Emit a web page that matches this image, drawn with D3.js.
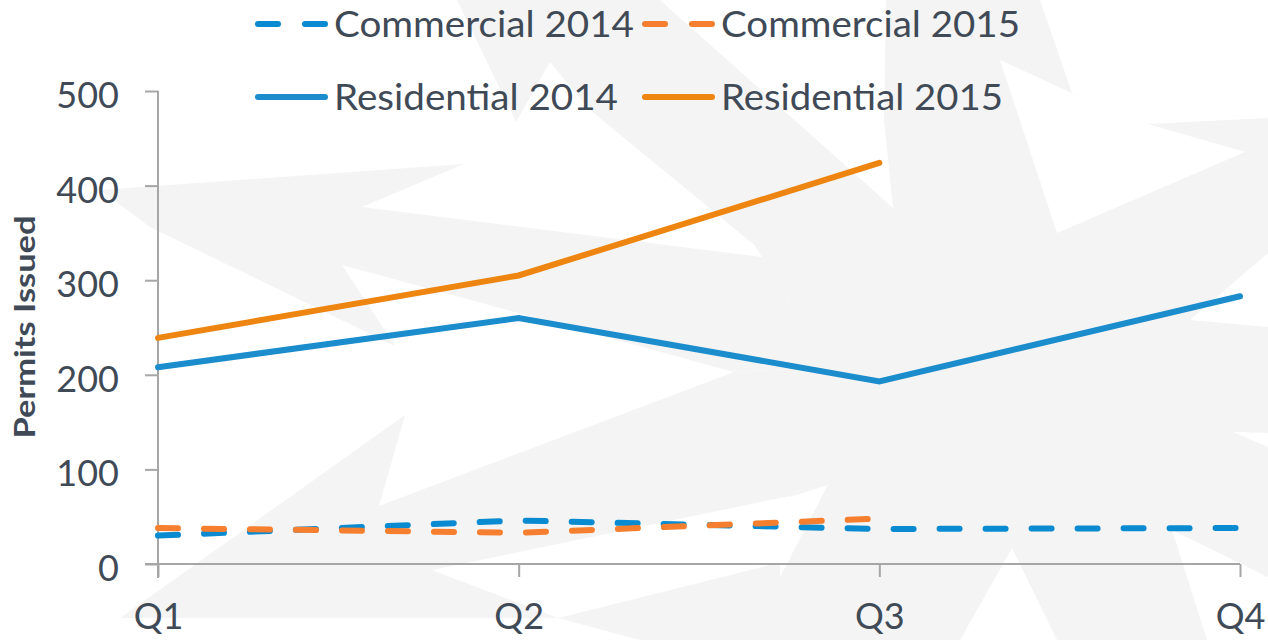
<!DOCTYPE html>
<html><head><meta charset="utf-8">
<script src="https://cdn.jsdelivr.net/npm/d3@7"></script>
<style>html,body{margin:0;padding:0;background:#fff;overflow:hidden}</style>
</head><body>
<svg id="c" width="1268" height="640"></svg>
<script>
const quarters = ["Q1","Q2","Q3","Q4"];
const yTicks = [0,100,200,300,400,500];
const commercial2014 = [30,46,37,38];
const commercial2015 = [38,33,48];
const residential2014 = [208,260,193,283];
const residential2015 = [239,305,424];
const seriesNames = ["Commercial 2014","Commercial 2015","Residential 2014","Residential 2015"];

const svg = d3.select("#c");
const font = "Lato, 'Open Sans', sans-serif";
const textCol = "#404a57";
const axisCol = "#a6a6a6";

// faint decorative watermark in the background
const grayShapes = [
  "M100,190 L464,164 L362,207 L762,257 L790,300 L734,372 L342,265 L395,346 L150,227 Z",
  "M120,618 L405,415 L379,506 L734,372 L790,369 L790,640 L640,640 L558,618 Z",
  "M457,0 L660,0 L893,208 L882,262 L758,248 L590,110 L550,62 L516,122 Z",
  "M886,0 L1040,0 L1072,93 L1148,124 L1268,118 L1268,640 L788,640 L788,369 L734,372 L790,300 L755,246 L880,258 L893,208 L884,120 Z"
];
const whiteShapes = [
  "M1000,60 L1057,233 L1245,152 L1148,124 L1072,93 Z",
  "M1268,253 L1190,320 L1268,327 Z",
  "M1233,432 L1268,433 L1268,447 Z",
  "M780,500 L828,485 L780,577 Z",
  "M1012,548 L960,640 L1057,640 Z",
  "M1172,530 L1268,577 L1268,640 L1207,640 Z",
  "M432,570 L790,496 L790,560 L558,618 Z"
];
const bg = svg.append("g");
bg.selectAll("path.g").data(grayShapes).enter().append("path").attr("class","g").attr("d",d=>d).attr("fill","#f4f4f4");
bg.selectAll("path.w").data(whiteShapes).enter().append("path").attr("class","w").attr("d",d=>d).attr("fill","#ffffff");

const x = d3.scalePoint().domain(quarters).range([158,1240]);
const y = d3.scaleLinear().domain([0,500]).range([564,91]);

// Y axis
const yAxis = d3.axisLeft(y).tickValues(yTicks).tickSize(13).tickPadding(26).tickSizeOuter(0);
const gy = svg.append("g").attr("transform","translate(158,0)").call(yAxis);
gy.select(".domain").attr("stroke",axisCol).attr("stroke-width",2).attr("d","M0,91V578");
gy.selectAll(".tick line").attr("stroke",axisCol).attr("stroke-width",2);
gy.selectAll(".tick text").attr("fill",textCol).attr("font-family",font).attr("font-size",36).attr("dy","0.46em");

// X axis
const xAxis = d3.axisBottom(x).tickSize(13).tickPadding(26).tickSizeOuter(0);
const gx = svg.append("g").attr("transform","translate(0,564)").call(xAxis);
gx.select(".domain").attr("stroke",axisCol).attr("stroke-width",2).attr("d","M145,0H1240");
gx.selectAll(".tick line").attr("stroke",axisCol).attr("stroke-width",2);
gx.selectAll(".tick text").attr("fill",textCol).attr("font-family",font).attr("font-size",36).attr("dy","0.72em");

// Y title
svg.append("text").attr("transform","translate(35,327) rotate(-90)")
  .attr("text-anchor","middle").attr("font-family",font).attr("font-weight","bold")
  .attr("font-size",28).attr("fill",textCol)
  .attr("textLength",223).attr("lengthAdjust","spacingAndGlyphs").text("Permits Issued");

const line = d3.line().x((d,i)=>x(quarters[i])).y(d=>y(d));
const series = [
  {name:seriesNames[0], data:commercial2014, color:"#0a8ad0", dash:"20,26", tl:300},
  {name:seriesNames[1], data:commercial2015, color:"#f57f2e", dash:"20,26", tl:299},
  {name:seriesNames[2], data:residential2014, color:"#1b8ccc", dash:null, tl:284},
  {name:seriesNames[3], data:residential2015, color:"#ee8510", dash:null, tl:282}
];
svg.append("g").selectAll("path").data(series).enter().append("path")
  .attr("d", d=>line(d.data)).attr("fill","none")
  .attr("stroke", d=>d.color).attr("stroke-width",6)
  .attr("stroke-linecap","round").attr("stroke-linejoin","miter")
  .attr("stroke-dasharray", d=>d.dash);

// legend
const legPos = [[255,24],[642,24],[255,97],[642,97]];
const lg = svg.append("g");
series.forEach((s,i)=>{
  const [lx,ly] = legPos[i];
  lg.append("line").attr("x1",lx+3).attr("x2",lx+70).attr("y1",ly).attr("y2",ly)
    .attr("stroke",s.color).attr("stroke-width",6).attr("stroke-linecap","round")
    .attr("stroke-dasharray", s.dash ? "20,27" : null);
  lg.append("text").attr("x",lx+79).attr("y",ly).attr("dy","0.36em")
    .attr("font-family",font).attr("font-size",37).attr("fill",textCol)
    .attr("textLength",s.tl).attr("lengthAdjust","spacingAndGlyphs").text(s.name);
});
</script>
</body></html>
